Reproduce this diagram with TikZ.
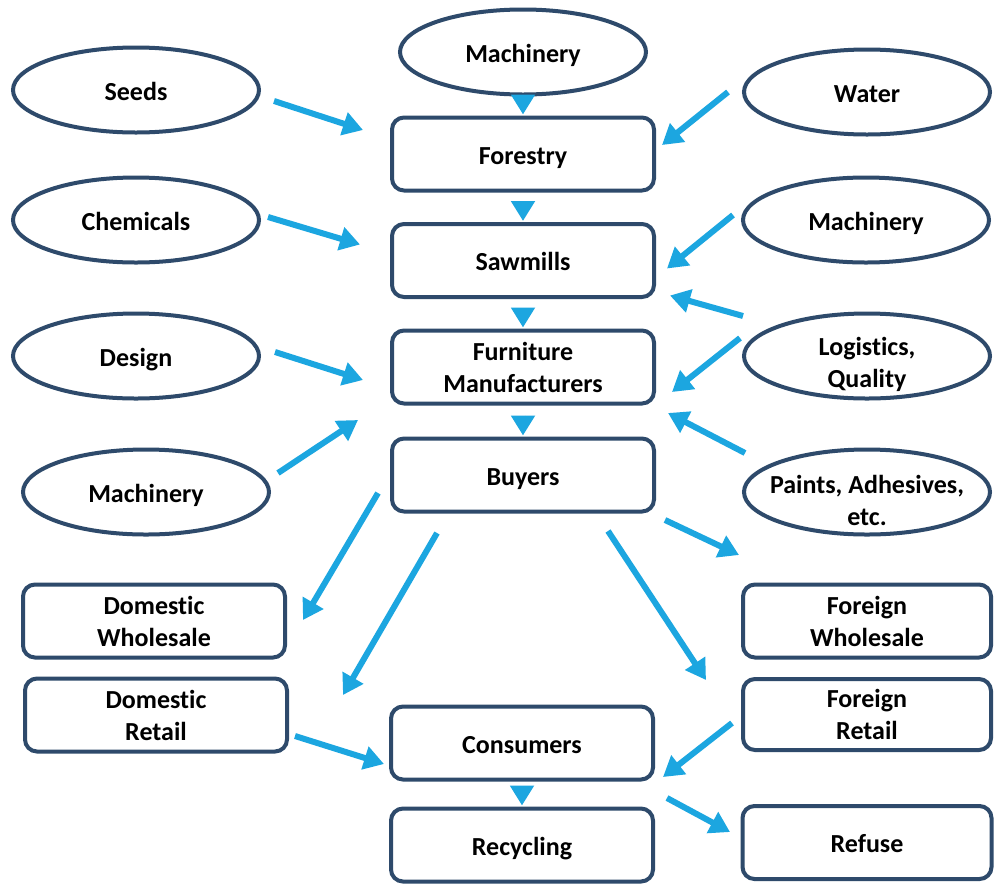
\documentclass[tikz,border=0pt]{standalone}
\usepackage{fontspec}
\setmainfont{Carlito}[Ligatures=NoCommon]
\usetikzlibrary{arrows.meta, calc, shapes.geometric}
\definecolor{navy}{RGB}{46,74,107}
\definecolor{skyblue}{RGB}{28,166,224}
\newcommand{\lowstrut}{\rule{0pt}{36pt}}

\begin{document}
\begin{tikzpicture}[x=1pt, y=-1pt, >={Triangle[length=20pt,width=23pt]},
		font=\fontsize{26}{32}\selectfont\bfseries,
		box/.style={draw=navy, line width=4pt, rounded corners=12pt, minimum width=262pt, minimum height=73pt, inner sep=0pt, outer sep=0pt, align=center},
		oval/.style={ellipse, draw=navy, line width=4pt, minimum width=246pt, minimum height=85pt, inner xsep=-30pt, inner ysep=-12pt, outer sep=0pt, align=center},
		one/.style={text height=20pt, text depth=0pt},
		flow/.style={->, skyblue, line width=6pt},
		stub/.style={flow, shorten <=12pt, shorten >=3pt}]
		\path[fill=white, use as bounding box] (0,0) rectangle (995,884);

		\node[oval, one] (machT) at (523,52) {Machinery};
		\node[oval, one] (seeds) at (136,90) {Seeds};
		\node[oval, one] (chem) at (136,220) {Chemicals};
		\node[oval, one] (design) at (136,356) {Design};
		\node[oval, one] (machL) at (146,492) {Machinery};
		\node[oval, one] (water) at (867,92) {Water};
		\node[oval, one] (machR) at (866,220) {Machinery};
		\node[oval] (logist) at (867,356) {\lowstrut Logistics,\\Quality};
		\node[oval] (paints) at (867,492) {\lowstrut Paints, Adhesives,\\etc.};

		\node[box, one] (forestry) at (523,154) {Forestry};
		\node[box, one] (sawmills) at (523,260.5) {Sawmills};
		\node[box] (furniture) at (523,367) {Furniture\\Manufacturers};
		\node[box, one] (buyers) at (523,475) {Buyers};
		\node[box, one] (consumers) at (522,743) {Consumers};
		\node[box, one] (recycling) at (522,845) {Recycling};

		\node[box] (domW) at (154,621) {Domestic\\Wholesale};
		\node[box] (domR) at (156,715) {Domestic\\Retail};
		\node[box, minimum width=248pt] (forW) at (867,621) {Foreign\\Wholesale};
		\node[box, minimum width=248pt, minimum height=71pt] (forR) at (867,714.5) {Foreign\\Retail};
		\node[box, one, minimum width=249pt] (refuse) at (867,842.5) {Refuse};

		\draw[stub] (machT.south) -- (forestry.north);
		\draw[stub] (forestry.south) -- (sawmills.north);
		\draw[stub] (sawmills.south) -- (furniture.north);
		\draw[stub] (furniture.south) -- (buyers.north);
		\draw[stub] (consumers.south) -- (recycling.north);

		\draw[flow] ($(seeds)+(138,11)$) -- ($(forestry)+(-160,-24)$);
		\draw[flow] ($(water)+(-139,0)$) -- ($(forestry)+(139,-9)$);
		\draw[flow] ($(chem)+(132,-3)$) -- ($(sawmills)+(-163,-16)$);
		\draw[flow] ($(machR)+(-133,-5)$) -- ($(sawmills)+(144,8)$);
		\draw[flow] ($(logist)+(-124,-40)$) -- ($(sawmills)+(147,35)$);
		\draw[flow] ($(logist)+(-127,-18)$) -- ($(furniture)+(149,25)$);
		\draw[flow] ($(paints)+(-122,-39)$) -- ($(furniture)+(145,46)$);
		\draw[flow] ($(design)+(139,-4)$) -- ($(furniture)+(-160,13)$);
		\draw[flow] ($(machL)+(132,-19)$) -- ($(furniture)+(-165,53)$);

		\draw[flow] ($(buyers)+(-145,18)$) -- ($(domW)+(149,-1)$);
		\draw[flow] ($(buyers)+(-86,58)$) -- ($(domR)+(187,-20)$);
		\draw[flow] ($(buyers)+(85,56)$) -- ($(forR)+(-161,-34.5)$);
		\draw[flow] ($(buyers)+(142,45)$) -- ($(forW)+(-128,-66)$);
		\draw[flow] ($(domR)+(139,21)$) -- ($(consumers)+(-138,21)$);
		\draw[flow] ($(forR)+(-135,8.5)$) -- ($(consumers)+(141,34)$);
		\draw[flow] ($(consumers)+(145,55)$) -- ($(refuse)+(-137,-10.5)$);
\end{tikzpicture}
\end{document}
